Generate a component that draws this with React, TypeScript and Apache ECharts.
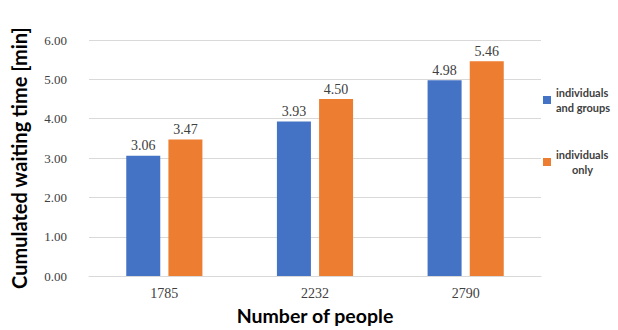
import React, { useEffect, useRef } from "react";
import * as echarts from "echarts";

const categories = ["1785", "2232", "2790"];
const seriesNames = ["individuals and groups", "individuals only"];
const groupsValues = [3.06, 3.93, 4.98];
const onlyValues = [3.47, 4.5, 5.46];
const yTicks = { min: 0, max: 6, interval: 1 };

export default function App() {
  const ref = useRef<HTMLDivElement>(null);
  useEffect(() => {
    if (!ref.current) return;
    const chart = echarts.init(ref.current, null, { renderer: "svg" });
    const labelStyle = {
      show: true,
      position: "top",
      fontFamily: "Liberation Serif",
      fontSize: 14,
      color: "#404040",
      distance: 3,
      formatter: (p: any) => Number(p.value).toFixed(2),
    };
    chart.setOption({
      animation: false,
      backgroundColor: "#ffffff",
      grid: { left: 89, right: 77, top: 40, bottom: 52 },
      legend: {
        orient: "vertical",
        left: 538,
        top: 80,
        itemWidth: 8,
        itemHeight: 8,
        itemGap: 32,
        icon: "rect",
        data: seriesNames,
        formatter: (n: string) =>
          n === "individuals and groups" ? "individuals\nand groups" : "individuals\n      only",
        textStyle: {
          fontFamily: "Lato",
          fontWeight: "bold",
          fontSize: 11,
          lineHeight: 15,
          color: "#404040",
        },
      },
      xAxis: {
        type: "category",
        data: categories,
        name: "Number of people",
        nameLocation: "middle",
        nameGap: 28,
        nameTextStyle: {
          fontFamily: "Lato",
          fontWeight: "bold",
          fontSize: 19.5,
          color: "#000000",
        },
        axisLine: { show: true, lineStyle: { color: "#d9d9d9" } },
        axisTick: { show: false },
        axisLabel: {
          fontFamily: "Liberation Serif",
          fontSize: 14,
          color: "#404040",
          margin: 10,
        },
      },
      yAxis: {
        type: "value",
        min: yTicks.min,
        max: yTicks.max,
        interval: yTicks.interval,
        name: "Cumulated waiting time [min]",
        nameLocation: "middle",
        nameGap: 60,
        nameTextStyle: {
          fontFamily: "Lato",
          fontWeight: "bold",
          fontSize: 20,
          color: "#000000",
        },
        axisLine: { show: false },
        axisTick: { show: false },
        splitLine: { lineStyle: { color: "#d9d9d9" } },
        axisLabel: {
          fontFamily: "Liberation Serif",
          fontSize: 13,
          color: "#404040",
          margin: 22,
          formatter: (v: number) => v.toFixed(2),
        },
      },
      series: [
        {
          name: seriesNames[0],
          type: "bar",
          data: groupsValues,
          barWidth: 34,
          barGap: "24%",
          itemStyle: { color: "#4472c4" },
          label: labelStyle,
        },
        {
          name: seriesNames[1],
          type: "bar",
          data: onlyValues,
          barWidth: 34,
          itemStyle: { color: "#ed7d31" },
          label: labelStyle,
        },
      ],
    });
    return () => chart.dispose();
  }, []);
  return (
    <div
      ref={ref}
      style={{ position: "fixed", left: 0, top: 0, width: 618, height: 330 }}
    />
  );
}
